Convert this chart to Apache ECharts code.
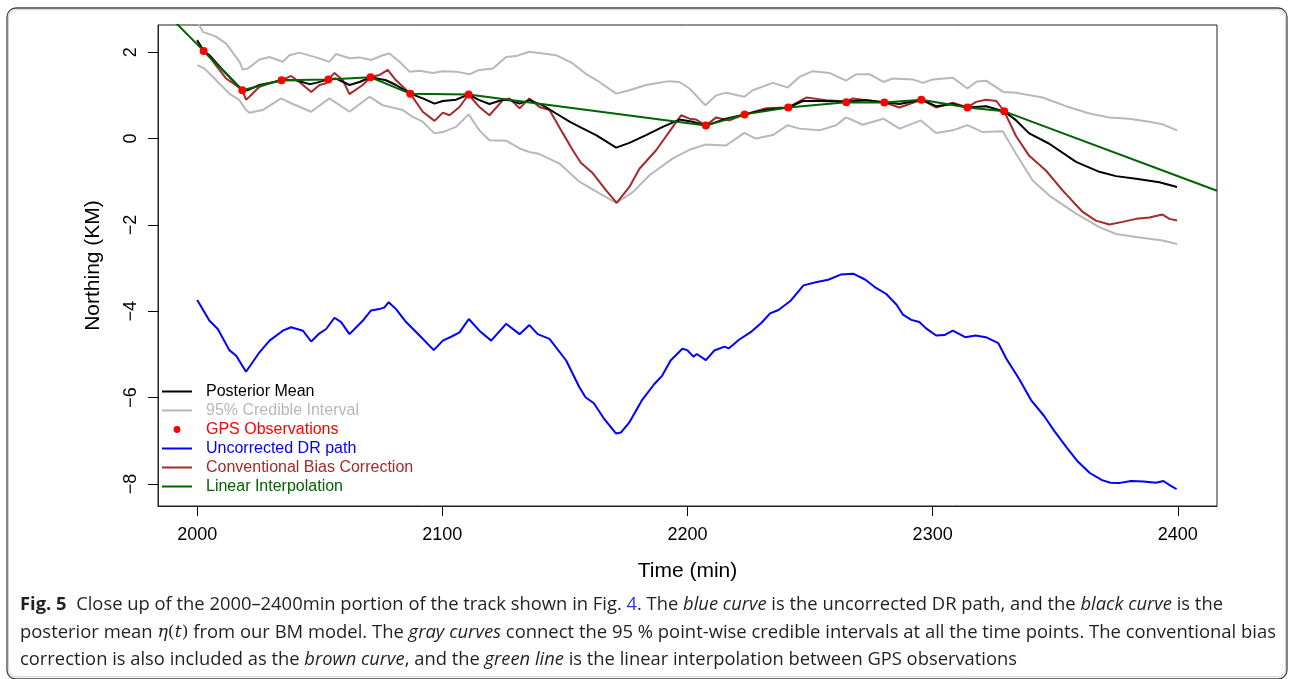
<!DOCTYPE html>
<html>
<head>
<meta charset="utf-8">
<script src="https://cdn.jsdelivr.net/npm/echarts@6/dist/echarts.min.js"></script>
<style>
  html, body { margin: 0; padding: 0; background: #fff; }
  #chart { width: 1289px; height: 679px; }
</style>
</head>
<body>
<div id="chart"></div>
<script>
// ---- data: [time (min), northing (km)] ----
const xTicks = [2000, 2100, 2200, 2300, 2400];
const yTicks = [-8, -6, -4, -2, 0, 2];

const gpsObs = [
  [2002.6, 2.03], [2018.4, 1.12], [2034.4, 1.35], [2053.5, 1.37], [2070.7, 1.42],
  [2086.9, 1.04], [2110.7, 1.02], [2207.5, 0.30], [2223.3, 0.56], [2241.1, 0.72],
  [2264.8, 0.84], [2280.3, 0.835], [2295.4, 0.90], [2314.2, 0.72], [2329.2, 0.63]
];
// the interpolation line runs on past both ends of the plot
const interpStart = [1984, 3.10];
const interpEnd = [2416, -1.21];

const posteriorMean = [
  [2000, 2.27], [2002.6, 2.03], [2005, 1.93], [2010.4, 1.59], [2014.5, 1.35], [2018.4, 1.12],
  [2020.6, 1.12], [2025.4, 1.24], [2029.5, 1.29], [2034.4, 1.35], [2040.3, 1.35], [2045.8, 1.26],
  [2048.5, 1.29], [2053.5, 1.37], [2056.7, 1.39], [2062.1, 1.24], [2066.2, 1.31], [2070.7, 1.42],
  [2077.0, 1.35], [2081.1, 1.24], [2086.9, 1.04], [2092.0, 0.93], [2096.8, 0.81], [2100.2, 0.87],
  [2105.6, 0.90], [2110.7, 1.02], [2115.1, 0.89], [2119.2, 0.80], [2124.7, 0.90], [2127.4, 0.89],
  [2131.5, 0.81], [2135.5, 0.89], [2141.0, 0.77], [2146.4, 0.58], [2151.9, 0.39], [2156.0, 0.27],
  [2162.7, 0.08], [2170.9, -0.21], [2176.3, -0.10], [2183.1, 0.08], [2189.9, 0.27], [2196.7, 0.44],
  [2202.1, 0.39], [2207.5, 0.30], [2215.7, 0.46], [2223.3, 0.56], [2232.1, 0.67], [2241.1, 0.72],
  [2247.0, 0.87], [2253.8, 0.87], [2264.8, 0.86], [2272.9, 0.89], [2280.3, 0.84], [2286.5, 0.80],
  [2295.4, 0.90], [2301.4, 0.75], [2308.2, 0.80], [2314.2, 0.72], [2321.8, 0.75], [2329.2, 0.63],
  [2334.1, 0.42], [2339.4, 0.12], [2347.6, -0.12], [2358.5, -0.54], [2368.0, -0.77], [2374.8, -0.87],
  [2383.0, -0.93], [2392.5, -1.01], [2399.7, -1.12]
];

const biasCorrected = [
  [2000, 2.28], [2002.6, 2.03], [2005, 1.89], [2011.8, 1.39], [2017.2, 1.18], [2018.4, 1.12],
  [2019.9, 0.90], [2021.3, 0.97], [2025.4, 1.20], [2029.5, 1.28], [2034.4, 1.35], [2038.3, 1.45],
  [2041.7, 1.31], [2046.5, 1.08], [2049.9, 1.24], [2052.6, 1.28], [2053.5, 1.37], [2056.0, 1.52],
  [2059.4, 1.35], [2062.1, 1.03], [2067.5, 1.24], [2070.7, 1.42], [2074.3, 1.47], [2077.7, 1.59],
  [2081.1, 1.35], [2086.9, 1.04], [2092.0, 0.62], [2096.8, 0.41], [2100.2, 0.60], [2102.9, 0.54],
  [2107.0, 0.73], [2110.7, 1.02], [2115.1, 0.73], [2119.2, 0.54], [2124.7, 0.89], [2127.4, 0.93],
  [2131.5, 0.70], [2135.5, 0.93], [2139.6, 0.73], [2143.7, 0.66], [2149.2, 0.12], [2153.2, -0.27],
  [2156.5, -0.56], [2161.3, -0.80], [2166.8, -1.20], [2171.1, -1.49], [2176.3, -1.12], [2180.4, -0.70],
  [2187.2, -0.27], [2194.0, 0.27], [2197.4, 0.54], [2200.8, 0.46], [2203.5, 0.44], [2207.5, 0.30],
  [2211.7, 0.49], [2217.1, 0.42], [2223.3, 0.56], [2232.1, 0.70], [2241.1, 0.72], [2248.4, 0.95],
  [2256.5, 0.89], [2264.8, 0.86], [2267.4, 0.93], [2280.3, 0.835], [2286.5, 0.72], [2290.5, 0.80],
  [2295.4, 0.90], [2301.4, 0.72], [2308.2, 0.83], [2314.2, 0.72], [2317.7, 0.85], [2321.8, 0.90],
  [2326.0, 0.87], [2329.2, 0.63], [2334.0, 0.06], [2339.4, -0.40], [2346.2, -0.74], [2353.0, -1.20],
  [2361.2, -1.70], [2366.6, -1.90], [2372.1, -1.99], [2377.5, -1.93], [2383.0, -1.86], [2388.4, -1.83],
  [2393.8, -1.76], [2396.6, -1.86], [2399.7, -1.90]
];

const ciUpper = [
  [2000, 2.72], [2002.3, 2.47], [2007.7, 2.36], [2011.8, 2.20], [2017.2, 1.78], [2018.6, 1.60],
  [2020.6, 1.62], [2025.4, 1.83], [2029.5, 1.89], [2034.9, 1.78], [2037.6, 1.93], [2041.7, 1.99],
  [2048.5, 1.88], [2053.9, 1.78], [2056.7, 1.96], [2062.1, 1.86], [2066.2, 1.88], [2070.9, 1.82],
  [2075.7, 1.93], [2078.4, 1.97], [2082.5, 1.78], [2086.6, 1.55], [2090.7, 1.57], [2096.1, 1.52],
  [2100.2, 1.56], [2105.6, 1.55], [2111.1, 1.49], [2115.1, 1.59], [2120.6, 1.62], [2126.0, 1.89],
  [2130.1, 1.91], [2135.5, 2.01], [2141.0, 1.97], [2146.4, 1.93], [2153.2, 1.74], [2158.5, 1.50],
  [2163.0, 1.35], [2170.9, 1.04], [2176.3, 1.12], [2183.1, 1.24], [2192.6, 1.33], [2196.7, 1.31],
  [2200.8, 1.16], [2207.3, 0.77], [2211.7, 1.00], [2215.7, 1.06], [2223.2, 0.97], [2226.6, 1.12],
  [2234.8, 1.29], [2240.9, 1.18], [2245.7, 1.43], [2251.1, 1.56], [2257.9, 1.52], [2264.7, 1.34],
  [2268.8, 1.49], [2274.2, 1.49], [2279.9, 1.31], [2283.7, 1.39], [2291.9, 1.37], [2296.0, 1.29],
  [2300.1, 1.37], [2308.2, 1.41], [2314.2, 1.16], [2318.0, 1.32], [2321.8, 1.34], [2328.8, 1.08],
  [2334.0, 1.06], [2344.9, 0.95], [2354.4, 0.75], [2364.0, 0.58], [2372.1, 0.49], [2380.2, 0.46],
  [2388.4, 0.39], [2393.8, 0.33], [2399.7, 0.19]
];

const ciLower = [
  [2000, 1.70], [2003.0, 1.62], [2007.7, 1.35], [2013.1, 1.04], [2017.2, 0.89], [2019.9, 0.66],
  [2021.3, 0.60], [2026.7, 0.66], [2034.2, 0.93], [2039.0, 0.80], [2046.5, 0.62], [2053.9, 0.93],
  [2062.1, 0.62], [2070.3, 0.97], [2075.7, 0.77], [2083.9, 0.66], [2087.9, 0.50], [2092.0, 0.39],
  [2096.8, 0.12], [2100.2, 0.15], [2105.6, 0.27], [2110.7, 0.56], [2115.1, 0.19], [2119.2, -0.04],
  [2126.0, -0.05], [2131.5, -0.23], [2135.5, -0.31], [2139.6, -0.36], [2147.8, -0.58], [2155.9, -1.00],
  [2164.1, -1.27], [2170.9, -1.49], [2177.7, -1.24], [2184.5, -0.85], [2194.0, -0.46], [2200.8, -0.26],
  [2207.3, -0.14], [2215.7, -0.16], [2223.2, 0.13], [2227.9, 0.00], [2234.8, 0.08], [2240.9, 0.31],
  [2245.7, 0.23], [2253.8, 0.19], [2260.6, 0.31], [2264.7, 0.49], [2271.5, 0.32], [2279.9, 0.46],
  [2286.5, 0.23], [2295.2, 0.42], [2301.4, 0.13], [2308.2, 0.19], [2314.2, 0.31], [2320.4, 0.15],
  [2328.6, 0.17], [2334.0, -0.35], [2340.8, -0.97], [2347.6, -1.32], [2358.5, -1.74], [2368.0, -2.05],
  [2374.8, -2.21], [2383.0, -2.28], [2393.8, -2.36], [2399.7, -2.44]
];

const drPath = [
  [2000, -3.74], [2005, -4.22], [2008.4, -4.41], [2013.1, -4.90], [2015.9, -5.03], [2019.9, -5.40],
  [2025.4, -4.95], [2029.5, -4.68], [2034.9, -4.45], [2038.3, -4.37], [2043.1, -4.45], [2046.5, -4.70],
  [2049.9, -4.51], [2052.6, -4.41], [2056.0, -4.15], [2058.7, -4.25], [2062.1, -4.53], [2067.5, -4.22],
  [2070.9, -3.98], [2074.3, -3.95], [2076.4, -3.91], [2078.1, -3.79], [2081.1, -3.95], [2085.2, -4.25],
  [2090.7, -4.56], [2096.5, -4.90], [2100.2, -4.68], [2103.6, -4.59], [2107.0, -4.49], [2110.8, -4.18],
  [2115.1, -4.45], [2119.9, -4.68], [2126.0, -4.29], [2131.5, -4.53], [2135.5, -4.32], [2138.9, -4.53],
  [2143.7, -4.64], [2150.5, -5.14], [2155.9, -5.76], [2158.4, -5.99], [2161.8, -6.13], [2166.1, -6.50],
  [2170.8, -6.83], [2172.8, -6.81], [2176.2, -6.58], [2181.3, -6.07], [2186.4, -5.69], [2189.7, -5.49],
  [2193.1, -5.14], [2197.9, -4.87], [2199.9, -4.90], [2202.4, -5.05], [2203.8, -4.99], [2207.5, -5.13],
  [2210.9, -4.91], [2215.1, -4.82], [2216.8, -4.86], [2221.0, -4.66], [2226.1, -4.47], [2230.3, -4.26],
  [2233.7, -4.05], [2237.1, -3.97], [2242.2, -3.75], [2247.3, -3.40], [2252.3, -3.33], [2257.4, -3.27],
  [2262.5, -3.15], [2267.6, -3.13], [2272.6, -3.27], [2276.9, -3.46], [2281.1, -3.60], [2285.3, -3.85],
  [2287.9, -4.08], [2291.3, -4.20], [2294.6, -4.25], [2297.2, -4.39], [2301.4, -4.56], [2304.8, -4.55],
  [2308.2, -4.45], [2313.3, -4.60], [2317.5, -4.56], [2321.7, -4.60], [2326.8, -4.74], [2330.2, -5.11],
  [2335.3, -5.57], [2340.3, -6.07], [2345.4, -6.42], [2349.6, -6.77], [2354.7, -7.16], [2358.9, -7.46],
  [2364.0, -7.74], [2369.1, -7.91], [2372.5, -7.97], [2375.9, -7.98], [2380.9, -7.93], [2386.0, -7.94],
  [2391.1, -7.97], [2394.1, -7.93], [2397.0, -8.04], [2399.5, -8.12]
];

// caption, split into the three printed lines: [style, text]
const captionLines = [
  [['b', 'Fig. 5'], ['n', '  Close up of the 2000\u20132400min portion of the track shown in Fig. '], ['a', '4'],
   ['n', '. The '], ['i', 'blue curve'], ['n', ' is the uncorrected DR path, and the '], ['i', 'black curve'], ['n', ' is the']],
  [['n', 'posterior mean '], ['mi', '\u03b7'], ['m', '('], ['mi', 't'], ['m', ')'], ['n', ' from our BM model. The '],
   ['i', 'gray curves'], ['n', ' connect the 95 % point-wise credible intervals at all the time points. The conventional bias']],
  [['n', 'correction is also included as the '], ['i', 'brown curve'], ['n', ', and the '], ['i', 'green line'],
   ['n', ' is the linear interpolation between GPS observations']]
];
const captionRight = [1223, 1276, 1017];

// ---- chart ----
const FONT = '"Liberation Sans", Arial, Helvetica, sans-serif';
const CAP_FONT = '"Open Sans", "Noto Sans", sans-serif';
const MATH_FONT = '"DejaVu Serif", "Liberation Serif", serif';
const GRAY = '#b8b8b8', BROWN = '#a52a2a', GREEN = '#006400';

const capSize = 18;
const capStyles = {
  n: { fontFamily: CAP_FONT, fontSize: capSize, fill: '#231f20' },
  b: { fontFamily: CAP_FONT, fontSize: capSize, fill: '#231f20', fontWeight: 'bold' },
  i: { fontFamily: CAP_FONT, fontSize: capSize, fill: '#231f20', fontStyle: 'italic' },
  a: { fontFamily: CAP_FONT, fontSize: capSize, fill: '#2b3de0' },
  m: { fontFamily: MATH_FONT, fontSize: capSize - 1, fill: '#231f20' },
  mi: { fontFamily: MATH_FONT, fontSize: capSize - 1, fill: '#231f20', fontStyle: 'italic' }
};

const measureCtx = document.createElement('canvas').getContext('2d');
function lineWidth(segs) {
  let w = 0;
  segs.forEach(([k, t]) => {
    const s = capStyles[k];
    measureCtx.font = (s.fontStyle || 'normal') + ' ' + (s.fontWeight || 'normal') + ' ' + s.fontSize + 'px ' + s.fontFamily;
    w += measureCtx.measureText(t).width;
  });
  return w;
}

const captionY = [605, 633, 660];
const captionGraphics = captionLines.map((segs, i) => ({
  type: 'text',
  x: 20,
  y: captionY[i],
  scaleX: (captionRight[i] - 20) / lineWidth(segs),
  style: {
    text: segs.map(([k, t]) => '{' + k + '|' + t + '}').join(''),
    rich: capStyles,
    verticalAlign: 'middle',
    align: 'left'
  }
}));

// legend icons: a 30px stroke (or a dot) inside a 39x8 box
const lineIcon = 'path://M0,0h0.01v0.01h-0.01z M39,8h-0.01v-0.01h0.01z M0,3.1h30v1.8h-30z';
const dotIcon = 'path://M0,0h0.01v0.01h-0.01z M39,8h-0.01v-0.01h0.01z M11.6,4a3.4,3.4 0 1,0 6.8,0a3.4,3.4 0 1,0 -6.8,0z';

const chart = echarts.init(document.getElementById('chart'), null, { renderer: 'canvas' });

const minus = v => String(v).replace('-', '\u2212');

const option = {
  animation: false,
  backgroundColor: '#fff',
  grid: {
    left: 158, right: 72, top: 25, bottom: 173,
    show: true, borderColor: '#222', borderWidth: 1
  },
  xAxis: {
    type: 'value',
    min: 1984, max: 2416,
    name: 'Time (min)',
    nameLocation: 'middle',
    nameGap: 55,
    nameTextStyle: { fontFamily: FONT, fontSize: 21, color: '#000' },
    axisLine: { show: true, onZero: false, lineStyle: { color: '#222', width: 1 } },
    axisTick: { show: true, length: 10, customValues: xTicks, lineStyle: { color: '#000', width: 1 } },
    axisLabel: { customValues: xTicks, margin: 20, fontFamily: FONT, fontSize: 18, color: '#000', formatter: v => String(v) },
    splitLine: { show: false }
  },
  yAxis: {
    type: 'value',
    min: -8.51, max: 2.63,
    name: 'Northing (KM)',
    nameLocation: 'middle',
    nameRotate: 90,
    nameGap: 54,
    nameTextStyle: { fontFamily: FONT, fontSize: 21, color: '#000' },
    axisLine: { show: true, onZero: false, lineStyle: { color: '#222', width: 1 } },
    axisTick: { show: true, length: 10, customValues: yTicks, lineStyle: { color: '#000', width: 1 } },
    axisLabel: { customValues: yTicks, rotate: 90, margin: 18, fontFamily: FONT, fontSize: 18, color: '#000', formatter: minus },
    splitLine: { show: false }
  },
  legend: {
    orient: 'vertical',
    left: 162,
    top: 382,
    itemWidth: 39,
    itemHeight: 8,
    itemGap: 0,
    padding: 0,
    selectedMode: false,
    itemStyle: { borderWidth: 0 },
    textStyle: { fontFamily: FONT, fontSize: 16, lineHeight: 19, padding: 0 },
    data: [
      { name: 'Posterior Mean', icon: lineIcon, textStyle: { color: '#000' } },
      { name: '95% Credible Interval', icon: lineIcon, textStyle: { color: GRAY } },
      { name: 'GPS Observations', icon: dotIcon, textStyle: { color: '#ff0000' } },
      { name: 'Uncorrected DR path', icon: lineIcon, textStyle: { color: '#0000ff' } },
      { name: 'Conventional Bias Correction', icon: lineIcon, textStyle: { color: BROWN } },
      { name: 'Linear Interpolation', icon: lineIcon, textStyle: { color: GREEN } }
    ]
  },
  graphic: [
    {
      type: 'rect',
      shape: { x: 7, y: 8, width: 1280, height: 671, r: 9 },
      style: { fill: 'none', stroke: '#444', lineWidth: 1.3 },
      silent: true
    },
    {
      type: 'rect',
      shape: { x: 8.5, y: 9.8, width: 1277, height: 667, r: 8 },
      style: { fill: 'none', stroke: '#d0d0d0', lineWidth: 1 },
      silent: true
    }
  ].concat(captionGraphics),
  series: [
    {
      name: '95% Credible Interval', type: 'line', data: ciUpper, showSymbol: false, symbol: 'none',
      lineStyle: { color: GRAY, width: 2 }, itemStyle: { color: GRAY }, z: 1
    },
    {
      name: '95% Credible Interval', type: 'line', data: ciLower, showSymbol: false, symbol: 'none',
      lineStyle: { color: GRAY, width: 2 }, itemStyle: { color: GRAY }, z: 1
    },
    {
      name: 'Uncorrected DR path', type: 'line', data: drPath, showSymbol: false, symbol: 'none',
      lineStyle: { color: '#0000ff', width: 2 }, itemStyle: { color: '#0000ff' }, z: 2
    },
    {
      name: 'Conventional Bias Correction', type: 'line', data: biasCorrected, showSymbol: false, symbol: 'none',
      lineStyle: { color: BROWN, width: 2 }, itemStyle: { color: BROWN }, z: 3
    },
    {
      name: 'Posterior Mean', type: 'line', data: posteriorMean, showSymbol: false, symbol: 'none',
      lineStyle: { color: '#000', width: 2 }, itemStyle: { color: '#000' }, z: 4
    },
    {
      name: 'Linear Interpolation', type: 'line', data: [interpStart].concat(gpsObs, [interpEnd]),
      showSymbol: false, symbol: 'none', clip: true,
      lineStyle: { color: GREEN, width: 2 }, itemStyle: { color: GREEN }, z: 5
    },
    {
      name: 'GPS Observations', type: 'scatter', data: gpsObs, symbol: 'circle', symbolSize: 8,
      itemStyle: { color: '#ff0000', opacity: 1 }, z: 6
    }
  ]
};

chart.setOption(option);
</script>
</body>
</html>
